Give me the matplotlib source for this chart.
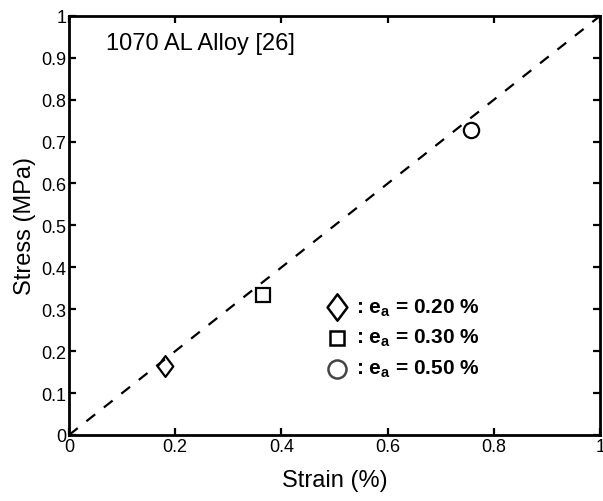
import matplotlib
matplotlib.use("Agg")
import matplotlib.pyplot as plt
from matplotlib.path import Path
import numpy as np

plt.rcParams['font.family'] = ['Liberation Sans', 'DejaVu Sans']

strain = [0.18, 0.365, 0.757]
stress = [0.165, 0.333, 0.727]
labels = ['0.20', '0.30', '0.50']
ticks = [0, 0.2, 0.4, 0.6, 0.8, 1]
yticks = [0, 0.1, 0.2, 0.3, 0.4, 0.5, 0.6, 0.7, 0.8, 0.9, 1]

diamond = Path([(0, 1), (0.75, 0), (0, -1), (-0.75, 0), (0, 1)],
               [Path.MOVETO, Path.LINETO, Path.LINETO, Path.LINETO, Path.CLOSEPOLY])
markers = [diamond, 's', 'o']

fig = plt.figure(figsize=(6.03, 5.02), dpi=100)
ax = fig.add_axes([0.1144, 0.1315, 0.881, 0.835])

ax.plot([0, 1], [0, 1], 'k--', lw=1.6, dashes=(5, 5))
sizes = [15, 10, 11]
for x, y, m, s in zip(strain, stress, markers, sizes):
    ax.plot(x, y, marker=m, ms=s, mfc='none', mec='k', mew=1.6, ls='none')

# custom legend
lx, ly = 0.505, [0.305, 0.232, 0.158]
lsizes = [19, 10, 13]
lcols = ['k', 'k', '#444444']
for m, lab, yy, s, c in zip(markers, labels, ly, lsizes, lcols):
    ax.plot(lx, yy, marker=m, ms=s, mfc='none', mec=c,
            mew=1.8, ls='none', transform=ax.transAxes, clip_on=False)
    ax.text(lx + 0.035, yy, r': $\mathregular{e_a}$ = ' + lab + ' %', transform=ax.transAxes,
            fontsize=15, fontweight='bold', va='center', ha='left')

ax.text(0.07, 0.935, '1070 AL Alloy [26]', transform=ax.transAxes, fontsize=17, va='center')

ax.set_xlim(0, 1)
ax.set_ylim(0, 1)
ax.set_xticks(ticks)
ax.set_xticklabels([f'{t:g}' for t in ticks])
ax.set_yticks(yticks)
ax.set_yticklabels([f'{t:g}' for t in yticks])
ax.tick_params(direction='in', top=True, right=True, labelsize=13, width=1.6, length=5, pad=2)
for sp in ax.spines.values():
    sp.set_linewidth(2)
ax.set_xlabel('Strain (%)', fontsize=17, labelpad=10)
ax.set_ylabel('Stress (MPa)', fontsize=17, labelpad=4)

fig.savefig('out.png', dpi=100)
